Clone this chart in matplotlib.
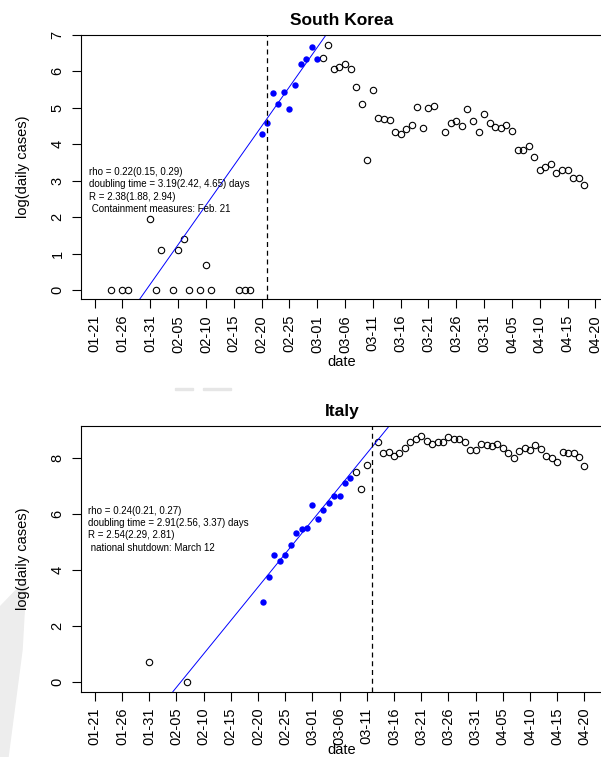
import numpy as np
import matplotlib
matplotlib.use('Agg')
import matplotlib.pyplot as plt
from matplotlib.patches import Polygon, Rectangle

plt.rcParams['font.family'] = ['Liberation Sans', 'DejaVu Sans']

# days counted from 2020-01-21
tick_days = list(range(0, 91, 5))
tick_labels = ['01-21', '01-26', '01-31', '02-05', '02-10', '02-15', '02-20',
               '02-25', '03-01', '03-06', '03-11', '03-16', '03-21', '03-26',
               '03-31', '04-05', '04-10', '04-15', '04-20']

# South Korea, log(daily cases)
kr_open_days = [3, 5, 6, 10, 11, 12, 14, 15, 16, 17, 19, 20, 21, 26, 27, 28,
                41, 42, 43, 44, 45, 46, 47, 48, 49, 50, 51, 52, 53, 54, 55, 56,
                57, 58, 59, 60, 61, 63, 64, 65, 66, 67, 68, 69, 70, 71, 72, 73,
                74, 75, 76, 77, 78, 79, 80, 81, 82, 83, 84, 85, 86, 87, 88]
kr_open_vals = [0, 0, 0, 1.95, 0, 1.10, 0, 1.10, 1.39, 0, 0, 0.69, 0, 0, 0, 0,
                6.38, 6.73, 6.06, 6.13, 6.21, 6.08, 5.58, 5.10, 3.56, 5.48, 4.72,
                4.70, 4.67, 4.33, 4.29, 4.43, 4.52, 5.01, 4.45, 4.99, 5.06, 4.33,
                4.59, 4.65, 4.50, 4.97, 4.65, 4.35, 4.82, 4.59, 4.47, 4.46, 4.53,
                4.37, 3.85, 3.85, 3.95, 3.66, 3.29, 3.39, 3.46, 3.21, 3.29, 3.29,
                3.08, 3.08, 2.89]
kr_fit_days = [30, 31, 32, 33, 34, 35, 36, 37, 38, 39, 40]
kr_fit_vals = [4.27, 4.59, 5.42, 5.11, 5.44, 4.97, 5.63, 6.20, 6.33, 6.68, 6.35]
kr_line = (-2.006, 0.2166)
kr_event = 31
kr_text = ('rho = 0.22(0.15, 0.29)\ndoubling time = 3.19(2.42, 4.65) days\n'
           'R = 2.38(1.88, 2.94)\n Containment measures: Feb. 21')

# Italy, log(daily cases)
it_open_days = [10, 17, 48, 49, 50, 52, 53, 54, 55, 56, 57, 58, 59, 60, 61, 62,
                63, 64, 65, 66, 67, 68, 69, 70, 71, 72, 73, 74, 75, 76, 77, 78,
                79, 80, 81, 82, 83, 84, 85, 86, 87, 88, 89, 90]
it_open_vals = [0.69, 0, 7.50, 6.89, 7.76, 8.57, 8.18, 8.22, 8.08, 8.18, 8.37,
                8.59, 8.69, 8.81, 8.63, 8.50, 8.57, 8.57, 8.77, 8.69, 8.69, 8.57,
                8.30, 8.30, 8.51, 8.46, 8.44, 8.52, 8.38, 8.20, 8.00, 8.27, 8.38,
                8.30, 8.47, 8.33, 8.08, 8.00, 7.88, 8.22, 8.18, 8.20, 8.06, 7.72]
it_fit_days = [31, 32, 33, 34, 35, 36, 37, 38, 39, 40, 41, 42, 43, 44, 45, 46, 47]
it_fit_vals = [2.84, 3.75, 4.55, 4.32, 4.55, 4.88, 5.34, 5.48, 5.50, 6.33, 5.84,
               6.14, 6.40, 6.66, 6.65, 7.13, 7.29]
it_line = (-3.794, 0.2393)
it_event = 51
it_text = ('rho = 0.24(0.21, 0.27)\ndoubling time = 2.91(2.56, 3.37) days\n'
           'R = 2.54(2.29, 2.81)\n national shutdown: March 12')

W, H = 601, 757
fig = plt.figure(figsize=(W / 100, H / 100), dpi=100)


def add_ax(left, top, right, bottom):
    return fig.add_axes([left / W, 1 - bottom / H, (right - left) / W, (bottom - top) / H])


def panel(ax, title, open_d, open_v, fit_d, fit_v, line, event, text, text_xy,
          xlim, ylim, yticks):
    ax.plot(open_d, open_v, 'o', mfc='none', mec='black', ms=4.6, mew=0.8)
    ax.plot(fit_d, fit_v, 'o', color='blue', ms=4.6, mew=0)
    ax.axline((0, line[0]), slope=line[1], color='blue', lw=0.7)
    ax.axvline(event, color='black', lw=0.9, ls=(0, (4, 3)))
    ax.text(text_xy[0], text_xy[1], text, fontsize=7, ha='left', va='center',
            linespacing=1.3)
    ax.set_xlim(*xlim)
    ax.set_ylim(*ylim)
    ax.set_xticks(tick_days)
    ax.set_xticklabels(tick_labels, rotation=90)
    ax.set_yticks(yticks)
    ax.set_yticklabels([str(t) for t in yticks], rotation=90, va='center')
    ax.tick_params(direction='out', length=6.5, width=0.8, labelsize=10.5, pad=5)
    for s in ax.spines.values():
        s.set_linewidth(0.8)
    ax.set_title(title, fontsize=12.5, fontweight='bold', pad=7.5)


ax1 = add_ax(80.7, 35, 603.5, 299)
panel(ax1, 'South Korea', kr_open_days, kr_open_vals, kr_fit_days, kr_fit_vals,
      kr_line, kr_event, kr_text, (-1.0, 2.73), (-2.5, 91.45), (-0.247, 7.0),
      list(range(0, 8)))

ax2 = add_ax(80.7, 426, 603.5, 691.7)
panel(ax2, 'Italy', it_open_days, it_open_vals, it_fit_days, it_fit_vals,
      it_line, it_event, it_text, (-1.2, 5.46), (-2.58, 93.5), (-0.358, 9.155),
      [0, 2, 4, 6, 8])

for yc in [167, 559]:
    fig.text(23 / W, 1 - yc / H, 'log(daily cases)', rotation=90, ha='center',
             va='center', fontsize=10.5)
fig.text(342 / W, 1 - 366.5 / H, 'date', ha='center', va='baseline', fontsize=10.5)
fig.text(342 / W, 0.0, 'date', ha='center', va='bottom', fontsize=10.5)

# faint watermark pieces visible in the source image
wm = [(0, 607), (26, 580), (22, 650), (8, 757), (0, 757)]
fig.patches.append(Polygon([(x / W, 1 - y / H) for x, y in wm], closed=True,
                           transform=fig.transFigure, color='#ededed', zorder=-1))
for x0, x1 in [(175, 193), (203, 231)]:
    fig.patches.append(Rectangle((x0 / W, 1 - 390 / H), (x1 - x0) / W, 2 / H,
                                 transform=fig.transFigure, color='#e6e6e6', zorder=-1))

fig.savefig('out.png', dpi=100)
